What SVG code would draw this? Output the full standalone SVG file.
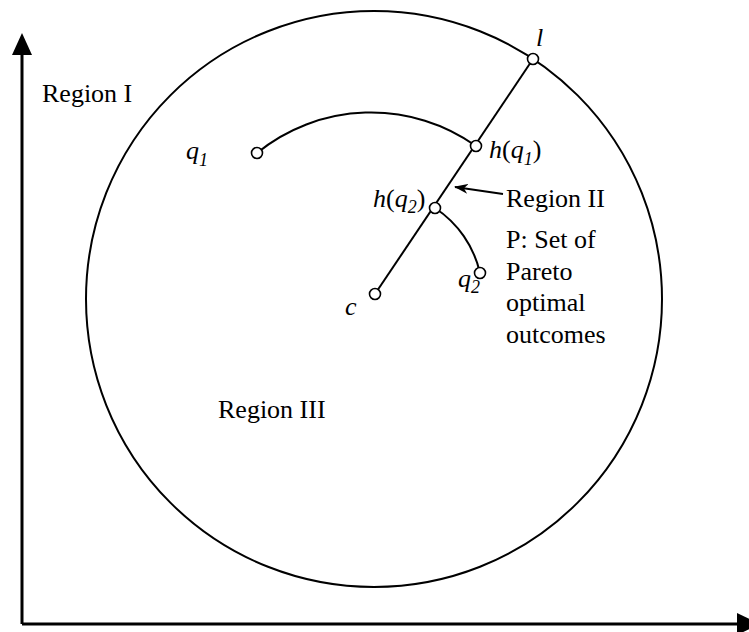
<svg xmlns="http://www.w3.org/2000/svg" width="749" height="632" viewBox="0 0 749 632">
<style>
.t{font-family:"Liberation Serif","Times New Roman",serif;font-size:26px;fill:#000}
.i{font-style:italic}
.s{font-size:18px}
.ln{fill:none;stroke:#000;stroke-width:2}
.ax{fill:none;stroke:#000;stroke-width:3}
.nd{fill:#fff;stroke:#000;stroke-width:1.6}
</style>
<defs>
<marker id="ah" viewBox="0 0 14 10" refX="13" refY="5" markerWidth="14" markerHeight="10" markerUnits="userSpaceOnUse" orient="auto">
<path d="M0,0 L14,5 L0,10 L4,5 Z" fill="#000"/>
</marker>
</defs>
<g id="axes">
<path class="ax" d="M22,624 V52 M22,624 H740"/>
<polygon points="22,33 12,55 32,55" fill="#000"/>
<polygon points="760,624 737,613 737,635" fill="#000"/>
</g>
<g id="region-boundary">
<circle class="ln" cx="374" cy="299" r="288"/>
</g>
<g id="connectors">
<path class="ln" d="M375,294 L533,59"/>
<path class="ln" d="M257,153 A181,181 0 0 1 476,146"/>
<path class="ln" d="M435,208 A106,106 0 0 1 480,273"/>
<path class="ln" d="M503,194 L455,187" stroke-width="1.6" marker-end="url(#ah)"/>
</g>
<g id="node-l"><circle class="nd" cx="533" cy="59" r="5.5"/><text class="t i" x="536" y="46">l</text></g>
<g id="node-hq1"><circle class="nd" cx="476" cy="146" r="5.5"/><text class="t" x="489" y="158"><tspan class="i">h</tspan>(<tspan class="i">q</tspan><tspan class="i s" dy="7">1</tspan><tspan dy="-7">)</tspan></text></g>
<g id="node-hq2"><circle class="nd" cx="435" cy="208" r="5.5"/><text class="t" x="373" y="207"><tspan class="i">h</tspan>(<tspan class="i">q</tspan><tspan class="i s" dy="6">2</tspan><tspan dy="-6">)</tspan></text></g>
<g id="node-q1"><circle class="nd" cx="257" cy="153" r="5.5"/><text class="t i" x="186" y="159">q<tspan class="s" dy="7">1</tspan></text></g>
<g id="node-q2"><circle class="nd" cx="480" cy="273" r="5.5"/><text class="t i" x="458" y="287">q<tspan class="s" dy="6">2</tspan></text></g>
<g id="node-c"><circle class="nd" cx="375" cy="294" r="5.5"/><text class="t i" x="345" y="315">c</text></g>
<g id="labels">
<text class="t" x="42" y="102">Region I</text>
<text class="t" x="506" y="207">Region II</text>
<text class="t" x="218" y="418">Region III</text>
<text class="t" x="506" y="248">P: Set of</text>
<text class="t" x="506" y="280">Pareto</text>
<text class="t" x="506" y="311">optimal</text>
<text class="t" x="506" y="343">outcomes</text>
</g>
</svg>
